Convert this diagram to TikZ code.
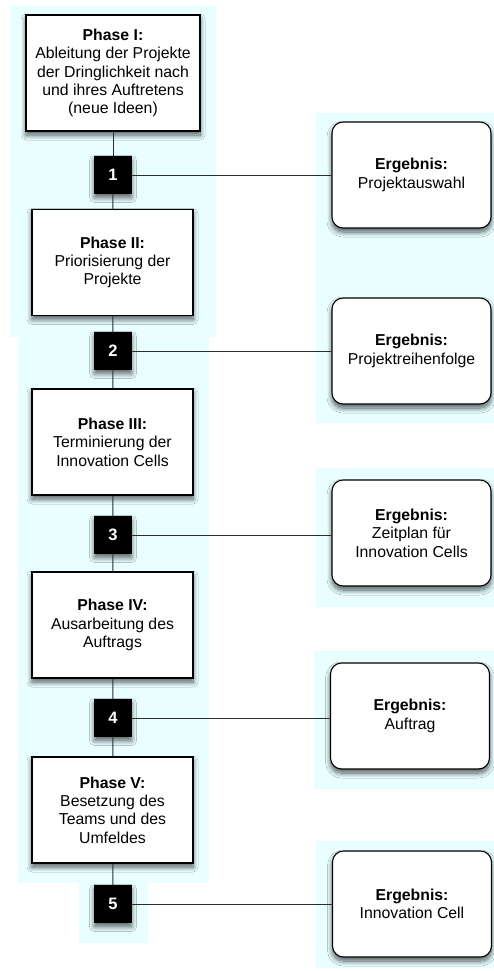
\documentclass[tikz,border=0pt]{standalone}
\usepackage{fontspec}
\setmainfont{Liberation Sans}
\usetikzlibrary{shadows.blur}
\definecolor{panelbg}{RGB}{232,254,255}
\definecolor{linegray}{RGB}{45,45,45}
\begin{document}
\begin{tikzpicture}[x=1pt,y=-1pt,
  panel/.style={fill=panelbg, draw=none},
  boxshadow/.style={blur shadow={shadow xshift=0pt, shadow yshift=-4pt,
      shadow blur radius=5pt, shadow opacity=65, shadow blur steps=10}},
  txt/.style={font=\fontsize{15.8}{18.4}\selectfont, align=center},
  phase/.style={txt, draw=black, line width=1.1pt, fill=white,
      minimum width=161pt, minimum height=106pt, inner sep=2pt, boxshadow},
  result/.style={txt, draw=black, line width=1.1pt, fill=white,
      rounded corners=11pt, minimum width=159pt, minimum height=106pt,
      inner sep=2pt, boxshadow},
  marker/.style={fill=black, draw=black, minimum size=37pt, inner sep=0pt,
      text=white, font=\fontsize{16.5}{18}\selectfont\bfseries, boxshadow},
  conn/.style={draw=linegray, line width=1pt}
]
\useasboundingbox (0,0) rectangle (494,971);

% light background panels
\fill[panel] (10,6) rectangle (216,337);
\fill[panel] (18,337) rectangle (209,883);
\fill[panel] (79,883) rectangle (148,943);
\fill[panel] (316,113) rectangle (494,423);
\fill[panel] (316,468) rectangle (494,607);
\fill[panel] (314,651) rectangle (494,789);
\fill[panel] (316,841) rectangle (494,968);

% phases
\node[phase, minimum width=174pt, minimum height=116pt] (p1) at (113,73)
  {\textbf{Phase I:}\\Ableitung der Projekte\\der Dringlichkeit nach\\und ihres Auftretens\\(neue Ideen)};
\node[phase] (p2) at (112.5,262.5) {\textbf{Phase II:}\\Priorisierung der\\Projekte};
\node[phase] (p3) at (112.5,442) {\textbf{Phase III:}\\Terminierung der\\Innovation Cells};
\node[phase] (p4) at (112.5,625) {\textbf{Phase IV:}\\Ausarbeitung des\\Auftrags};
\node[phase] (p5) at (112.5,810) {\textbf{Phase V:}\\Besetzung des\\Teams und des\\Umfeldes};

% numbered markers
\node[marker] (s1) at (113,175) {1};
\node[marker] (s2) at (113,351) {2};
\node[marker] (s3) at (113,535) {3};
\node[marker] (s4) at (113,718) {4};
\node[marker] (s5) at (113,904) {5};

% results
\node[result] (r1) at (411.5,175) {\textbf{Ergebnis:}\\Projektauswahl};
\node[result] (r2) at (411.5,351) {\textbf{Ergebnis:}\\Projektreihenfolge};
\node[result] (r3) at (411.5,533) {\textbf{Ergebnis:}\\Zeitplan für\\Innovation Cells};
\node[result] (r4) at (410,716) {\textbf{Ergebnis:}\\Auftrag};
\node[result] (r5) at (412,904) {\textbf{Ergebnis:}\\Innovation Cell};

% connectors
\draw[conn] (p1) -- (s1);
\draw[conn] (s1) -- (p2);
\draw[conn] (p2) -- (s2);
\draw[conn] (s2) -- (p3);
\draw[conn] (p3) -- (s3);
\draw[conn] (s3) -- (p4);
\draw[conn] (p4) -- (s4);
\draw[conn] (s4) -- (p5);
\draw[conn] (p5) -- (s5);
\draw[conn] (s1) -- (r1);
\draw[conn] (s2) -- (r2);
\draw[conn] (s3) -- (s3 -| r3.west);
\draw[conn] (s4) -- (s4 -| r4.west);
\draw[conn] (s5) -- (r5);
\end{tikzpicture}
\end{document}
